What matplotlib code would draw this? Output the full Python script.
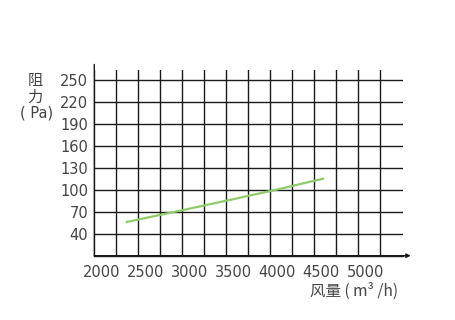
import matplotlib
matplotlib.use("Agg")
import matplotlib.pyplot as plt
import matplotlib.transforms as mtransforms
import numpy as np

# airflow (m3/h) vs resistance (Pa)
flow = [2370, 2920, 3500, 4070, 4600]
resistance = [56, 70, 85, 100, 115]

x_major = [2000, 2500, 3000, 3500, 4000, 4500, 5000]
x_minor = [2250, 2750, 3250, 3750, 4250, 4750, 5250]
y_ticks = [40, 70, 100, 130, 160, 190, 220, 250]

TEXT = "#444444"
GRID = "#1a1a1a"
GREEN = "#8fcb6c"
FONTS = ["Noto Sans CJK SC", "DejaVu Sans"]

plt.rcParams["font.family"] = ["DejaVu Sans", "Noto Sans CJK SC"]

fig = plt.figure(figsize=(4.55, 3.2), dpi=100)
W, H = 455, 320
left, right, bottom, top = 94.3, 403, 255.7, 70
ax = fig.add_axes([left / W, 1 - bottom / H, (right - left) / W, (bottom - top) / H])

ax.set_xlim(2000, 2000 + (right - left) / 88 * 1000)
ax.set_ylim(10, 10 + (bottom - top) / 22 * 30)

ax.set_xticks(x_major)
ax.set_xticks(x_minor, minor=True)
ax.set_yticks(y_ticks)
ax.tick_params(axis="both", which="both", length=0, colors=TEXT, labelsize=10.5)
ax.tick_params(axis="x", pad=6.5)
ax.tick_params(axis="y", pad=4.5)

# x labels sit a bit right of their grid lines in the reference
shift = mtransforms.ScaledTranslation(7 / 100, 0, fig.dpi_scale_trans)
for lab in ax.get_xticklabels():
    lab.set_transform(lab.get_transform() + shift)

# grid: vertical lines stop at 5250, horizontal run to the right edge
for xv in x_major + x_minor:
    ax.axvline(xv, color=GRID, lw=1.0, zorder=1)
for yv in y_ticks:
    ax.axhline(yv, color=GRID, lw=1.0, zorder=1)

for s in ["top", "right"]:
    ax.spines[s].set_visible(False)
ax.spines["left"].set_visible(False)
ax.spines["bottom"].set_color(GRID)
ax.spines["bottom"].set_linewidth(1.0)

# axis arrows
ax.annotate("", xy=(1.025, 0), xytext=(0, 0), xycoords="axes fraction",
            arrowprops=dict(arrowstyle="-|>", color=GRID, lw=1.0,
                            mutation_scale=6, shrinkA=0, shrinkB=0),
            annotation_clip=False)
ax.annotate("", xy=(0, 1.03), xytext=(0, 0), xycoords="axes fraction",
            arrowprops=dict(arrowstyle="-", color=GRID, lw=1.0,
                            shrinkA=0, shrinkB=0),
            annotation_clip=False)

ax.plot(flow, resistance, color=GREEN, lw=1.6, zorder=3)

fig.text(35 / W, 1 - 81 / H, "阻", ha="center", va="center", color=TEXT,
         fontsize=11, family=FONTS)
fig.text(35 / W, 1 - 97 / H, "力", ha="center", va="center", color=TEXT,
         fontsize=11, family=FONTS)
fig.text(36.5 / W, 1 - 113.5 / H, "( Pa)", ha="center", va="center", color=TEXT,
         fontsize=10.5, family=["DejaVu Sans"])
fig.text(354 / W, 1 - 291.5 / H, "风量 ( m³ /h)", ha="center", va="center",
         color=TEXT, fontsize=11.2, family=FONTS)

fig.savefig("out.png", dpi=100, facecolor="white")
